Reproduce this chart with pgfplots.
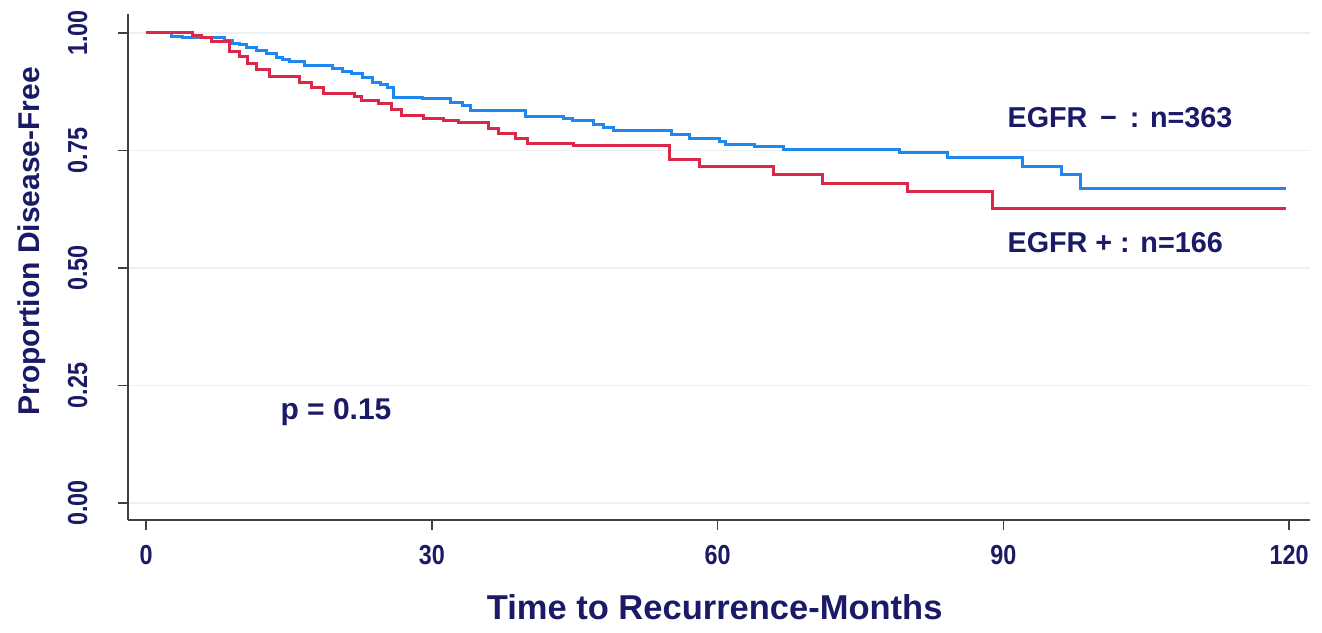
\documentclass[border=0pt]{standalone}
\usepackage{fontspec}
\setmainfont{Liberation Sans}
\usepackage{graphicx}
\usepackage{pgfplots}
\usepackage{pgfplotstable}
\pgfplotsset{compat=1.18}
\definecolor{navy}{RGB}{26,26,102}
\definecolor{kmblue}{RGB}{30,136,240}
\definecolor{kmred}{RGB}{220,40,72}
\definecolor{gridc}{RGB}{236,240,244}
\newcommand{\nt}[1]{\scalebox{0.85}[1]{#1}}

\pgfplotstableread{
t s
0 1.000
2.64 0.9936
3.80 0.9894
8.23 0.9851
9.07 0.9787
9.81 0.9745
10.55 0.9702
11.60 0.9638
12.66 0.9574
13.71 0.9489
14.34 0.9426
15.08 0.9383
16.66 0.9319
19.61 0.9255
20.67 0.9191
21.62 0.9128
22.78 0.9043
23.73 0.8957
24.57 0.8894
25.31 0.8830
25.94 0.8638
29.00 0.8596
31.95 0.8521
33.22 0.8468
34.06 0.8351
39.86 0.8234
43.87 0.8181
44.82 0.8128
47.03 0.8053
47.98 0.7989
49.04 0.7936
55.15 0.7830
57.05 0.7760
60.21 0.7702
60.85 0.7638
63.90 0.7581
66.96 0.7526
79.09 0.7457
84.15 0.7355
92.06 0.7170
96.07 0.6979
98.07 0.6696
119.7 0.6696
}\egfrneg

\pgfplotstableread{
t s
0 1.000
4.85 0.9957
5.80 0.9894
6.85 0.9819
8.75 0.9602
9.81 0.9496
10.65 0.9355
11.60 0.9213
12.97 0.9070
16.13 0.8957
17.40 0.8830
18.67 0.8713
21.93 0.8649
22.67 0.8574
24.36 0.8504
25.73 0.8362
26.78 0.8245
29.10 0.8185
31.21 0.8128
32.80 0.8091
35.96 0.7972
37.01 0.7866
38.81 0.7760
40.07 0.7653
44.92 0.7596
54.94 0.7298
58.10 0.7155
65.91 0.6979
70.97 0.6802
79.93 0.6623
88.90 0.6270
119.7 0.6270
}\egfrpos

\begin{document}
\begin{tikzpicture}
\useasboundingbox (-51.2pt,-44.8pt) rectangle (477.6pt,208pt);
\begin{axis}[
  scale only axis,
  width=472.8pt, height=202.4pt,
  xmin=-1.89, xmax=122.2,
  ymin=-0.0362, ymax=1.0404,
  axis x line=bottom, axis y line=left,
  axis line style={-, draw=black!75, line width=0.7pt},
  tick align=outside,
  major tick length=4pt,
  tick style={draw=black!75, line width=0.6pt},
  xtick={0,30,60,90,120},
  xticklabels={\nt{0},\nt{30},\nt{60},\nt{90},\nt{120}},
  ytick={0,0.25,0.5,0.75,1},
  yticklabels={\nt{0.00},\nt{0.25},\nt{0.50},\nt{0.75},\nt{1.00}},
  ymajorgrids,
  grid style={draw=gridc, line width=0.6pt},
  ticklabel style={font=\fontsize{11}{13}\selectfont\bfseries, text=navy, inner sep=0pt},
  yticklabel style={rotate=90, anchor=south},
  yticklabel shift=12pt,
  xticklabel style={anchor=north},
  xticklabel shift=6pt,
  xlabel={Time to Recurrence-Months},
  ylabel={Proportion Disease-Free},
  xlabel style={font=\fontsize{13.8}{16}\selectfont\bfseries, text=navy, inner sep=0pt, at={(axis cs:59.7,-0.221)}, anchor=center},
  ylabel style={font=\fontsize{12}{14}\selectfont\bfseries, text=navy, inner sep=0pt, at={(axis cs:-12.0,0.557)}, anchor=center, rotate=0},
  clip=false,
]
\addplot[const plot, draw=kmblue, line width=1.2pt] table[x=t,y=s] {\egfrneg};
\addplot[const plot, draw=kmred, line width=1.2pt] table[x=t,y=s] {\egfrpos};
\node[anchor=west, text=navy, font=\fontsize{11.5}{13}\selectfont\bfseries, inner sep=0pt] at (axis cs:90.4,0.820) {EGFR\ \,−\ \,: n=363};
\node[anchor=west, text=navy, font=\fontsize{11.5}{13}\selectfont\bfseries, inner sep=0pt] at (axis cs:90.4,0.553) {EGFR\ +\ : n=166};
\node[anchor=west, text=navy, font=\fontsize{12}{14}\selectfont\bfseries, inner sep=0pt] at (axis cs:14.07,0.194) {p = 0.15};
\end{axis}
\end{tikzpicture}
\end{document}
